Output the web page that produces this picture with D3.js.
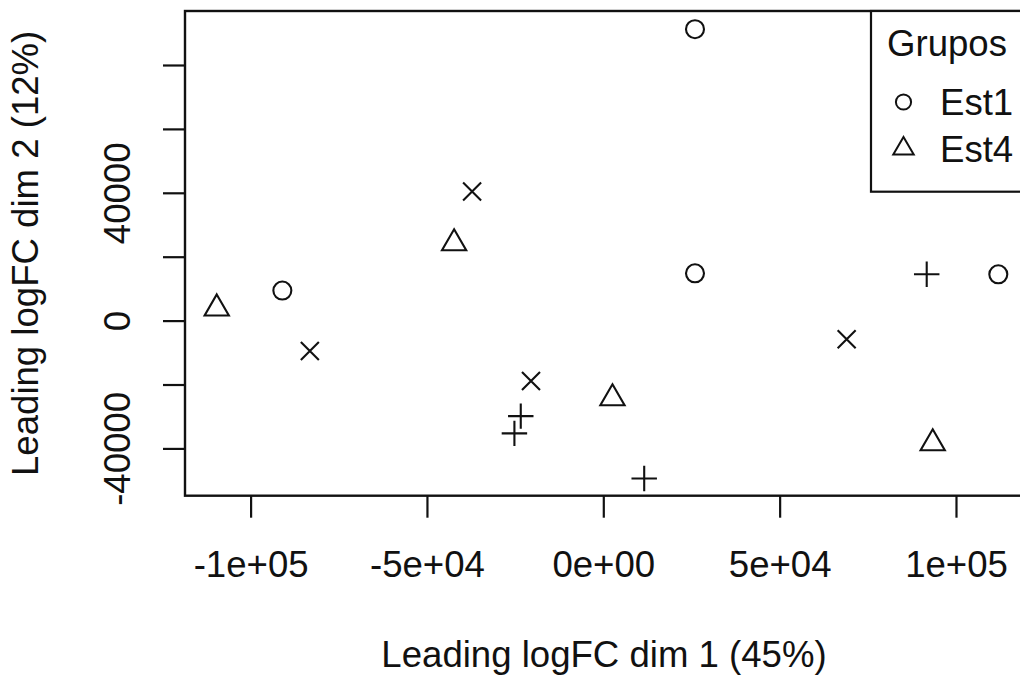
<!DOCTYPE html>
<html>
<head>
<meta charset="utf-8">
<script src="https://cdn.jsdelivr.net/npm/d3@7"></script>
<style>
  body { margin: 0; background: #fff; }
  svg text { font-family: "Liberation Sans", Arial, Helvetica, sans-serif; fill: #111; }
</style>
</head>
<body>
<svg id="chart" width="1020" height="679"></svg>
<script>
// MDS coordinates (leading logFC dims)
const dim1 = [26000, -91000, 26000, 112000,
              -109600, -42300, 2600, 93400,
              -37200, -83200, -20500, 69000,
              91700, -23400, -25200, 11600];
const dim2 = [91200, 9400, 14800, 14500,
              3800, 24200, -24300, -38400,
              40400, -9500, -18900, -5800,
              14500, -29900, -35300, -49400];
const shapes = ["circle", "circle", "circle", "circle",
                "triangle", "triangle", "triangle", "triangle",
                "cross", "cross", "cross", "cross",
                "plus", "plus", "plus", "plus"];

const legendTitle = "Grupos";
const legendLabels = ["Est1", "Est4"];
const legendShapes = ["circle", "triangle"];

const xTicks = [-100000, -50000, 0, 50000, 100000];
const xTickLabels = ["-1e+05", "-5e+04", "0e+00", "5e+04", "1e+05"];
const yTicks = [-40000, -20000, 0, 20000, 40000, 60000, 80000];
// R drops the labels that would overlap
const yTickLabels = ["-40000", "", "0", "", "40000", "", ""];

const xTitle = "Leading logFC dim 1 (45%)";
const yTitle = "Leading logFC dim 2 (12%)";

const svg = d3.select('#chart');
const ink = '#111';
const fontSize = 36.6;

const plot = { left: 185, right: 1023, top: 11, bottom: 495.7 };

const x = d3.scaleLinear()
    .domain([-118600, 119000])
    .range([plot.left, plot.right]);

const y = d3.scaleLinear()
    .domain([-54800, 96900])
    .range([plot.bottom, plot.top]);

// base plotting symbols, like R's pch 1..4
function symbolPath(shape, s) {
    if (shape === 'circle') {
        let p = d3.path();
        p.moveTo(s, 0);
        p.arc(0, 0, s, 0, 2 * Math.PI);
        p.closePath();
        return p.toString();
    }
    if (shape === 'triangle') {
        let r = 1.5551 * s, xc = 1.3468 * s, yc = 0.7776 * s;
        return `M0,${-r}L${xc},${yc}L${-xc},${yc}Z`;
    }
    if (shape === 'cross') {
        return `M${-s},${-s}L${s},${s}M${s},${-s}L${-s},${s}`;
    }
    let h = Math.SQRT2 * s;
    return `M${-h},0L${h},0M0,${-h}L0,${h}`;
}

// axes
let xAxis = d3.axisBottom(x)
    .tickValues(xTicks)
    .tickFormat((d, i) => xTickLabels[i])
    .tickSize(22);

let gx = svg.append('g')
    .attr('transform', `translate(0,${plot.bottom})`)
    .call(xAxis);
gx.select('.domain').remove();
gx.selectAll('.tick line').attr('stroke', ink).attr('stroke-width', 2.2);
gx.selectAll('.tick text')
    .attr('y', 81.6)
    .attr('dy', 0)
    .attr('fill', ink)
    .style('font-size', fontSize + 'px');

let yAxis = d3.axisLeft(y)
    .tickValues(yTicks)
    .tickFormat((d, i) => yTickLabels[i])
    .tickSize(22);

let gy = svg.append('g')
    .attr('transform', `translate(${plot.left},0)`)
    .call(yAxis);
gy.select('.domain').remove();
gy.selectAll('.tick line').attr('stroke', ink).attr('stroke-width', 2.2);
gy.selectAll('.tick text')
    .attr('x', 0)
    .attr('y', 0)
    .attr('dy', 0)
    .attr('text-anchor', 'middle')
    .attr('transform', `translate(${130 - plot.left},0) rotate(-90)`)
    .attr('fill', ink)
    .style('font-size', fontSize + 'px');

// box
svg.append('rect')
    .attr('x', plot.left)
    .attr('y', plot.top)
    .attr('width', plot.right - plot.left)
    .attr('height', plot.bottom - plot.top)
    .attr('fill', 'none')
    .attr('stroke', ink)
    .attr('stroke-width', 2.4);

// axis titles
svg.append('text')
    .attr('x', (plot.left + plot.right) / 2)
    .attr('y', 666.7)
    .attr('text-anchor', 'middle')
    .style('font-size', fontSize + 'px')
    .text(xTitle);

svg.append('text')
    .attr('transform', `translate(38.4,${(plot.top + plot.bottom) / 2}) rotate(-90)`)
    .attr('text-anchor', 'middle')
    .style('font-size', fontSize + 'px')
    .text(yTitle);

// points
svg.append('g')
    .selectAll('path')
    .data(dim1)
    .join('path')
    .attr('transform', (d, i) => `translate(${x(d)},${y(dim2[i])})`)
    .attr('d', (d, i) => symbolPath(shapes[i], 9))
    .attr('fill', 'none')
    .attr('stroke', ink)
    .attr('stroke-width', 2.1);

// legend (topright, clipped by the window like the original)
let legend = svg.append('g');
legend.append('rect')
    .attr('x', 871)
    .attr('y', plot.top)
    .attr('width', plot.right - 871)
    .attr('height', 191.7 - plot.top)
    .attr('fill', '#fff')
    .attr('stroke', ink)
    .attr('stroke-width', 2.2);

legend.append('text')
    .attr('x', (871 + plot.right) / 2)
    .attr('y', 56)
    .attr('text-anchor', 'middle')
    .style('font-size', fontSize + 'px')
    .text(legendTitle);

let baselines = [115, 161.7];
let entries = legend.selectAll('g.entry')
    .data(legendLabels)
    .join('g')
    .classed('entry', true)
    .attr('transform', (d, i) => `translate(0,${baselines[i]})`);

entries.append('path')
    .attr('transform', 'translate(903.5,-13)')
    .attr('d', (d, i) => symbolPath(legendShapes[i], 7.6))
    .attr('fill', 'none')
    .attr('stroke', ink)
    .attr('stroke-width', 2);

entries.append('text')
    .attr('x', 940)
    .attr('y', 0)
    .style('font-size', fontSize + 'px')
    .text(d => d);
</script>
</body>
</html>
